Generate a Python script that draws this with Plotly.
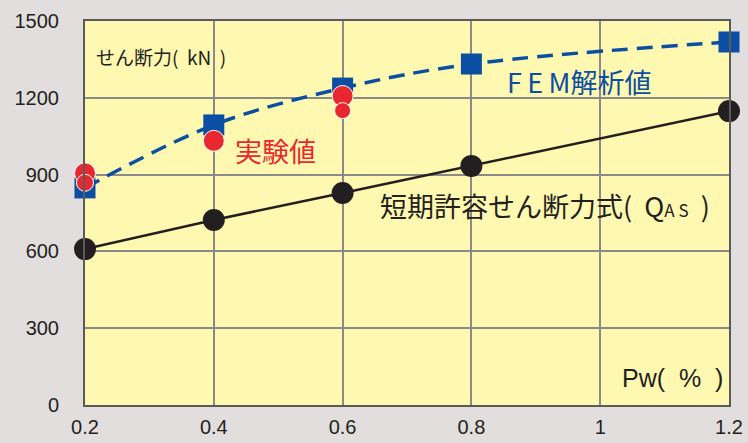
import plotly.graph_objects as go

# Shear reinforcement ratio Pw (%)
pw = [0.2, 0.4, 0.6, 0.8, 1.2]

# FEM analysis results (kN)
fem_values = [848, 1094, 1238, 1332, 1418]

# Short-term allowable shear strength formula QAS (kN)
qas_values = [609, 723, 828, 934, 1148]

# Test results (kN)
test_pw = [0.2, 0.2, 0.4, 0.6, 0.6]
test_values = [905, 868, 1032, 1207, 1150]
test_sizes = [21, 17, 21, 21, 16]

x_ticks = [0.2, 0.4, 0.6, 0.8, 1.0, 1.2]
x_tick_text = ["0.2", "0.4", "0.6", "0.8", "1", "1.2"]
y_ticks = [0, 300, 600, 900, 1200, 1500]

BLUE = "#0A4FA3"
RED = "#E8282E"
BLACK = "#231F20"
FONT = "Liberation Sans, Arial, Noto Sans CJK JP"
JP_FONT = "Noto Sans CJK JP, Liberation Sans"

fig = go.Figure()

# QAS formula line
fig.add_trace(go.Scatter(
    x=pw, y=qas_values, mode="lines+markers",
    line=dict(color=BLACK, width=2.5),
    marker=dict(color=BLACK, size=22, symbol="circle", opacity=1),
    cliponaxis=False, showlegend=False,
))

# FEM fitted dashed curve
fig.add_trace(go.Scatter(
    x=pw, y=fem_values, mode="lines",
    line=dict(color=BLUE, width=3.5, dash="16px,9px", shape="spline", smoothing=1.0),
    cliponaxis=False, showlegend=False,
))

# FEM points
fig.add_trace(go.Scatter(
    x=pw, y=fem_values, mode="markers",
    marker=dict(color=BLUE, size=21, symbol="square", opacity=1),
    cliponaxis=False, showlegend=False,
))

# Test points
fig.add_trace(go.Scatter(
    x=test_pw, y=test_values, mode="markers",
    marker=dict(color=RED, size=test_sizes, symbol="circle", opacity=1),
    cliponaxis=False, showlegend=False,
))

annotations = [
    dict(x=0.214, y=1362, text="せん断力(&nbsp;&nbsp;kN&nbsp;&nbsp;)", font=dict(family=JP_FONT, size=19, color=BLACK),
         xanchor="left", yanchor="middle", showarrow=False),
    dict(x=0.43, y=996, text="実験値", font=dict(family=JP_FONT, size=27, color=RED),
         xanchor="left", yanchor="middle", showarrow=False),
    dict(x=0.852, y=1262, text="F&#8201;E&#8201;M解析値", font=dict(family=JP_FONT, size=27, color=BLUE),
         xanchor="left", yanchor="middle", showarrow=False),
    dict(x=0.655, y=780,
         text="短期許容せん断力式(&nbsp;&nbsp;Q<span style='font-size:17px'>A S</span>&nbsp;&nbsp;)",
         font=dict(family=JP_FONT, size=27, color=BLACK),
         xanchor="left", yanchor="middle", showarrow=False),
    dict(x=1.031, y=105, text="Pw(&nbsp;&nbsp;%&nbsp;&nbsp;)", font=dict(family=FONT, size=25, color=BLACK),
         xanchor="left", yanchor="middle", showarrow=False),
]

fig.update_layout(
    width=748, height=443,
    margin=dict(l=85, r=19, t=21, b=38),
    paper_bgcolor="#E2DEDE",
    plot_bgcolor="#FFF8B0",
    font=dict(family=FONT, color=BLACK),
    annotations=annotations,
    xaxis=dict(
        range=[0.2, 1.2], tickvals=x_ticks, ticktext=x_tick_text, automargin=False,
        showgrid=True, gridcolor="#8A8A8A", gridwidth=1.5,
        zeroline=False, showline=True, linecolor="#5A5A5A", linewidth=2, mirror=True,
        tickfont=dict(size=20, color=BLACK), ticks="", ticklabelstandoff=3,
    ),
    yaxis=dict(
        range=[0, 1500], tickvals=y_ticks, automargin=False,
        showgrid=True, gridcolor="#8A8A8A", gridwidth=1.5,
        zeroline=False, showline=True, linecolor="#5A5A5A", linewidth=2, mirror=True,
        tickfont=dict(size=20, color=BLACK), ticks="", ticklabelstandoff=20,
    ),
)

fig.write_html("out.html")
